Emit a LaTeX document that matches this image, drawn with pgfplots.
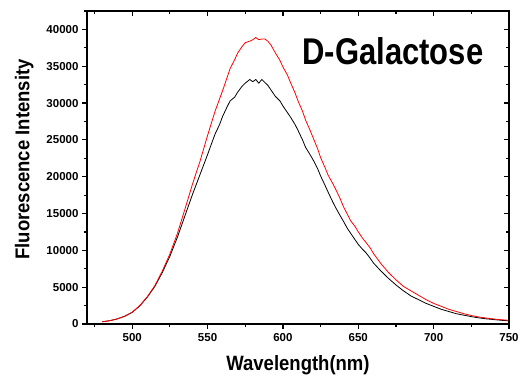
\documentclass[border=0pt]{standalone}
\usepackage{pgfplots}
\pgfplotsset{compat=1.18}
\usepackage{fontspec}
\usepackage{graphicx}
\setmainfont{Liberation Sans}
\pgfplotstableread{
x y
480 300
485 450
490 700
495 1050
500 1600
505 2500
510 3700
515 5200
520 7200
525 9500
530 12300
535 15600
540 19000
545 22100
550 25600
555 28900
560 31700
565 34700
568 35900
570 36800
573 37700
575 38200
578 38400
580 38600
582 38900
584 38600
586 38700
588 38700
590 38400
592 37900
595 36800
598 35800
600 34900
603 33800
605 32800
608 31400
610 30300
613 28900
615 27700
618 26300
620 25300
623 23800
625 22600
628 21200
630 20200
633 19100
635 18300
638 17000
640 16000
643 14800
645 14000
648 13200
650 12500
653 11600
655 11100
658 10300
660 9600
665 8200
670 7000
675 6000
680 5100
685 4500
690 3900
695 3300
700 2800
705 2400
710 2000
715 1700
720 1400
725 1150
730 950
735 800
740 680
745 580
750 500
}\redtab
\pgfplotstableread{
x y
480 300
485 440
490 680
495 1050
500 1580
505 2450
510 3650
515 5100
520 7000
525 9200
530 11800
535 14700
540 17600
545 20300
550 23000
553 24700
555 25800
558 27100
560 28200
563 29500
565 30300
568 30800
570 31500
573 32300
575 32700
578 33200
580 32900
582 33200
584 32700
586 33200
588 32800
590 32400
592 31800
595 30900
598 30300
600 29600
603 28700
605 28100
608 27100
610 26300
613 25000
615 24000
618 23000
620 22300
623 21100
625 20100
628 18800
630 17900
633 16600
635 15800
638 14700
640 14000
643 12900
645 12300
648 11400
650 10800
653 10100
655 9700
658 8900
660 8300
665 7200
670 6200
675 5300
680 4500
685 3800
690 3300
695 2800
700 2400
705 2000
710 1700
715 1400
720 1200
725 1000
730 830
735 700
740 600
745 500
750 430
}\blacktab
\pgfplotsset{
  base/.style={
    width=422pt, height=313pt, scale only axis,
    xmin=470, xmax=750, ymin=0, ymax=42500,
    scaled ticks=false,
    xtick={500,550,...,750}, minor xtick={475,525,...,725},
    ytick={0,5000,...,40000}, minor ytick={2500,7500,...,42500},
    axis line style={line width=1.6pt},
    major tick length=5pt, minor tick length=3pt,
    every tick/.style={black, line width=1.2pt},
  }
}
\begin{document}
\begin{tikzpicture}
\begin{axis}[base,
  xtick pos=left, ytick pos=left, tick align=outside,
  /pgf/number format/assume math mode=true,
  /pgf/number format/set thousands separator={},
  tick label style={font=\fontsize{11.5}{13}\selectfont\bfseries},
  xticklabel style={yshift=-1pt},
  xlabel={\fontsize{18.5}{20}\selectfont\bfseries\scalebox{1}[1.12]{Wavelength(nm)}},
  ylabel={\fontsize{18.5}{20}\selectfont\bfseries\scalebox{1}[1.08]{Fluorescence Intensity}},
  xlabel style={yshift=-7pt},
  ylabel style={yshift=6pt, xshift=8pt},
]
\addplot[black, line width=0.8pt, mark=none] table[x=x,y=y] {\blacktab};
\addplot[red, line width=0.8pt, mark=none] table[x=x,y=y] {\redtab};
\node at (axis cs:673,37000) {\fontsize{31}{33}\selectfont\bfseries\scalebox{1}[1.2]{D-Galactose}};
\end{axis}
\begin{axis}[base,
  xtick pos=right, ytick pos=right, tick align=inside,
  xticklabels={}, yticklabels={},
]
\end{axis}
\pgfresetboundingbox
\path[use as bounding box] (current axis.south west) ++(-87pt,-58pt) rectangle ++(520pt,382pt);
\end{tikzpicture}
\end{document}
